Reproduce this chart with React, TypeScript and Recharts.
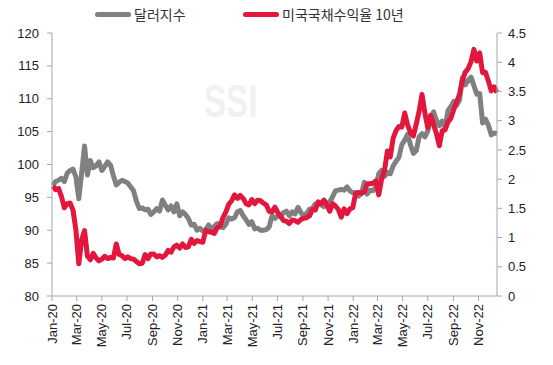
import React from 'react';
import { LineChart, Line, XAxis, YAxis } from 'recharts';

// weekly closes (Fridays), Jan 3 2020 .. Dec 16 2022
const dollarIndex2020 = [
  96.8, 97.4, 97.6, 97.9, 97.4,
  98.7, 99.1, 99.3, 98.1,
  94.8, 98.7, 102.8, 98.4,
  100.6, 99.5, 99.8, 100.4,
  99.1, 99.7, 100.4, 99.9, 98.3,
  96.9, 97.3, 97.6, 97.4,
  97.2, 96.6, 96.0, 94.4, 93.3,
  93.4, 93.1, 93.2, 92.4,
  92.8, 93.3, 92.9, 94.6,
  93.8, 93.1, 93.7, 92.8, 94.0,
  92.2, 92.8, 92.4, 91.8,
  90.8, 90.9, 90.0, 90.3,
];
const dollarIndex2021 = [
  89.9, 90.1, 90.8, 90.2, 90.6,
  91.0, 90.5, 90.4, 90.9,
  91.9, 91.7, 91.9, 92.8,
  93.0, 92.2, 91.6, 90.9, 91.3,
  90.2, 90.3, 90.0, 90.0,
  90.1, 90.5, 92.2, 91.8,
  92.2, 92.1, 92.7, 92.9, 92.2,
  92.8, 92.5, 93.5, 92.7,
  92.1, 92.6, 93.2, 93.3,
  94.0, 94.1, 93.9, 93.6, 94.1,
  94.3, 95.1, 96.0, 96.1,
  96.2, 96.1, 96.6, 96.0, 95.7,
];
const dollarIndex2022 = [
  95.7, 95.2, 95.6, 97.3,
  95.5, 96.1, 96.0, 96.6,
  98.6, 99.1, 98.2, 98.8,
  98.6, 99.8, 100.5, 101.1, 103.0,
  103.7, 104.6, 103.0, 101.7,
  102.1, 104.2, 104.7, 104.2,
  105.1, 106.9, 108.0, 106.7, 105.9,
  106.6, 105.6, 108.2, 108.8,
  109.6, 109.0, 109.8, 113.2, 112.1,
  112.8, 113.3, 112.0, 110.7,
  110.8, 106.3, 106.9, 106.0,
  104.5, 104.8, 104.7,
];

const treasury10y2020 = [
  1.88, 1.82, 1.84, 1.70, 1.51,
  1.58, 1.59, 1.47, 1.13,
  0.55, 0.96, 1.12, 0.68,
  0.62, 0.73, 0.65, 0.60,
  0.63, 0.68, 0.64, 0.66, 0.65,
  0.89, 0.71, 0.69, 0.64,
  0.67, 0.64, 0.63, 0.59, 0.55,
  0.56, 0.71, 0.64, 0.72,
  0.72, 0.67, 0.69, 0.66,
  0.70, 0.78, 0.75, 0.84, 0.87,
  0.82, 0.89, 0.83, 0.84,
  0.97, 0.90, 0.95, 0.93,
];
const treasury10y2021 = [
  0.92, 1.12, 1.10, 1.09, 1.07,
  1.17, 1.20, 1.34, 1.44,
  1.57, 1.63, 1.73, 1.67,
  1.72, 1.67, 1.58, 1.56, 1.65,
  1.58, 1.64, 1.63, 1.59,
  1.56, 1.45, 1.44, 1.52,
  1.43, 1.36, 1.29, 1.28, 1.24,
  1.30, 1.29, 1.26, 1.31,
  1.33, 1.34, 1.37, 1.48,
  1.47, 1.61, 1.58, 1.64, 1.56,
  1.45, 1.58, 1.54, 1.48,
  1.35, 1.49, 1.41, 1.49, 1.51,
];
const treasury10y2022 = [
  1.76, 1.77, 1.76, 1.78,
  1.92, 1.92, 1.93, 1.97,
  1.73, 2.00, 2.15, 2.48,
  2.38, 2.70, 2.83, 2.90, 2.89,
  3.13, 2.93, 2.79, 2.74,
  2.94, 3.16, 3.45, 3.13,
  2.88, 3.09, 2.93, 2.78, 2.57,
  2.83, 2.84, 2.98, 3.04,
  3.19, 3.32, 3.45, 3.69, 3.83,
  3.89, 4.01, 4.22, 4.02,
  4.16, 3.82, 3.83, 3.68,
  3.51, 3.58, 3.48,
];

const xTickLabels = [
  'Jan-20', 'Mar-20', 'May-20', 'Jul-20', 'Sep-20', 'Nov-20',
  'Jan-21', 'Mar-21', 'May-21', 'Jul-21', 'Sep-21', 'Nov-21',
  'Jan-22', 'Mar-22', 'May-22', 'Jul-22', 'Sep-22', 'Nov-22',
];
const leftTicks = [80, 85, 90, 95, 100, 105, 110, 115, 120];
const rightTicks = [0, 0.5, 1, 1.5, 2, 2.5, 3, 3.5, 4, 4.5];

const DAY = 86400000;
const START = Date.UTC(2020, 0, 1);
const FIRST_FRIDAY = (Date.UTC(2020, 0, 3) - START) / DAY;
const END_DAY = (Date.UTC(2022, 11, 16) - START) / DAY;

const dollarIndex = [...dollarIndex2020, ...dollarIndex2021, ...dollarIndex2022];
const treasury10y = [...treasury10y2020, ...treasury10y2021, ...treasury10y2022];

const data = dollarIndex.map((v, i) => ({
  day: FIRST_FRIDAY + 7 * i,
  dxy: v,
  ust: treasury10y[i],
}));

// tick positions = first day of every other month
const xTicks = xTickLabels.map((_, k) => (Date.UTC(2020 + Math.floor((2 * k) / 12), (2 * k) % 12, 1) - START) / DAY);
const labelOf = (d: number) => xTickLabels[xTicks.indexOf(d)] ?? '';

const GRAY = '#808080';
const RED = '#e3173d';
const AXIS = '#a6a6a6';
const FONT = '"Liberation Sans", Arial, sans-serif';

const XTick = ({ x, y, payload }: any) => (
  <text
    x={x}
    y={y + 1}
    transform={`rotate(-90, ${x}, ${y + 1})`}
    textAnchor="end"
    dominantBaseline="central"
    fontSize={13}
    fontFamily={FONT}
    fill="#222"
  >
    {labelOf(payload.value)}
  </text>
);

const LegendItem = ({ color, label, left }: { color: string; label: string; left: number }) => (
  <div style={{ position: 'absolute', left, top: 5, display: 'flex', alignItems: 'center' }}>
    <div style={{ width: 36, height: 5, borderRadius: 3, background: color, marginRight: 3 }} />
    <span style={{ fontFamily: '"Noto Sans CJK KR", sans-serif', fontSize: 14, color: '#333', lineHeight: '18px' }}>{label}</span>
  </div>
);

const App: React.FC = () => (
  <div style={{ position: 'absolute', left: 0, top: 0, width: 553, height: 365, background: '#fff' }}>
    <div
      style={{
        position: 'absolute',
        left: 204,
        top: 74,
        fontFamily: '"Liberation Sans Narrow", "Liberation Sans", Arial, sans-serif',
        fontWeight: 'bold',
        fontSize: 46,
        color: '#f1f1f1',
        transform: 'scaleX(0.72)',
        transformOrigin: 'left top',
      }}
    >
      SSI
    </div>
    <LegendItem color={GRAY} label="달러지수" left={95} />
    <LegendItem color={RED} label="미국국채수익율 10년" left={243} />
    <LineChart width={553} height={365} data={data} margin={{ top: 33, right: 0, bottom: 0, left: 0 }} style={{ position: 'absolute', left: 0, top: 0 }}>
      <XAxis
        dataKey="day"
        type="number"
        domain={[0, END_DAY]}
        ticks={xTicks}
        interval={0}
        height={69}
        tickSize={5}
        tickMargin={2}
        stroke={AXIS}
        tickLine={{ stroke: AXIS }}
        tick={<XTick />}
      />
      <YAxis
        yAxisId="left"
        domain={[80, 120]}
        ticks={leftTicks}
        interval={0}
        width={52}
        tickSize={5}
        tickMargin={8}
        stroke={AXIS}
        tick={{ fontSize: 13, fill: '#222', fontFamily: FONT }}
      />
      <YAxis
        yAxisId="right"
        orientation="right"
        domain={[0, 4.5]}
        ticks={rightTicks}
        interval={0}
        width={56}
        tickSize={5}
        tickMargin={6}
        stroke={AXIS}
        tick={{ fontSize: 13, fill: '#222', fontFamily: FONT }}
      />
      <Line yAxisId="left" type="linear" dataKey="dxy" stroke={GRAY} strokeWidth={5} dot={false} strokeLinejoin="round" isAnimationActive={false} />
      <Line yAxisId="right" type="linear" dataKey="ust" stroke={RED} strokeWidth={5} dot={false} strokeLinejoin="round" isAnimationActive={false} />
    </LineChart>
  </div>
);

export default App;
